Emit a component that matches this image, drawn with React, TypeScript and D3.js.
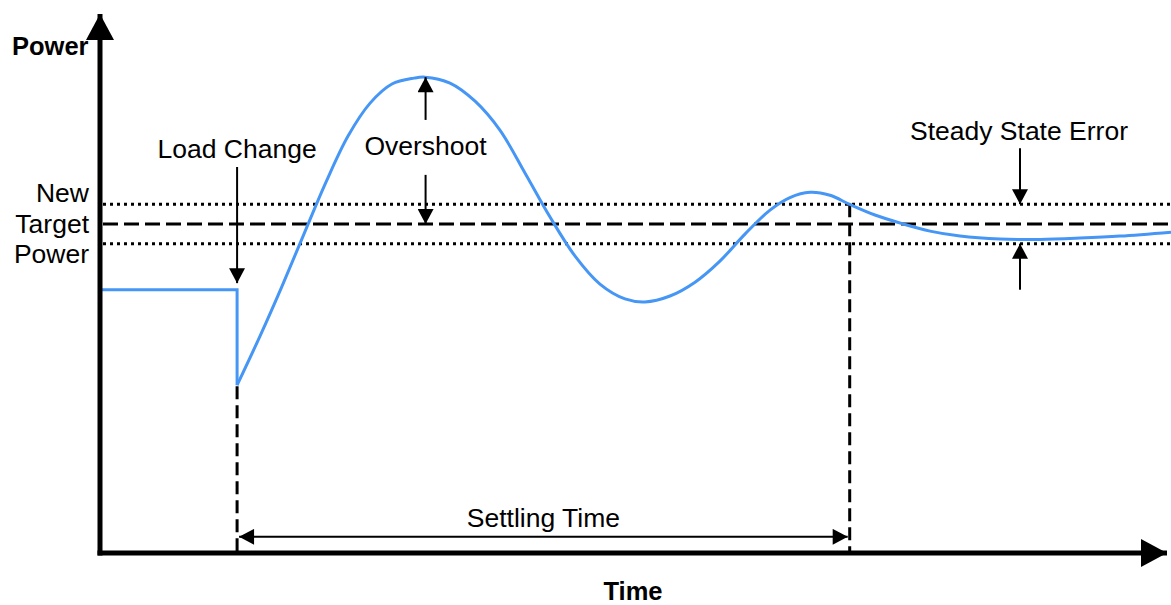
import React from "react";
import * as d3 from "d3";

// ---- data ----
const stepTime = [0, 6.4, 6.4];
const stepPower = [80, 80, 51];

const responseTime = [
  6.4, 7.47, 8.5, 9.52, 10.55, 11.58, 12.61, 13.63, 14.66, 15.17,
  16.34, 17.51, 18.67, 19.84, 21.01, 22.18, 23.34, 24.51, 25.44,
  26.61, 27.78, 28.94, 30.11, 31.28, 32.21, 33.15, 34.08, 35.01,
  36.18, 37.49, 38.75, 40.15, 42.02, 43.88, 45.75, 47.62, 50,
];
const responsePower = [
  51, 65.9, 81.1, 96.9, 112.7, 126.7, 136.7, 142.5, 144.3, 144.6,
  142.8, 137.3, 128.5, 115.5, 102.1, 90.2, 81.7, 77.2, 76.3,
  78.1, 82.3, 88.7, 96.9, 104.2, 108.0, 109.6, 108.7, 105.9,
  102.7, 100.0, 97.8, 96.3, 95.4, 95.3, 95.7, 96.3, 97.5,
];

const targetPower = 100;
const tolerance = 6;
const loadChangeTime = 6.4;
const settlingTime = 35;
const overshootTime = 15.2;
const peakPower = 144.6;
const steadyErrorTime = 42.95;

const axisLabels = { y: "Power", x: "Time" };
const targetLabel = ["New", "Target", "Power"];

// ---- layout ----
const W = 1171;
const H = 605;
const x = d3.scaleLinear().domain([0, 50]).range([100, 1171]);
const y = d3.scaleLinear().domain([0, 165]).range([553, 10]);

const BLUE = "#4696f6";
const FONT = "'Liberation Sans', Arial, Helvetica, sans-serif";

export default function App() {
  const stepPts: [number, number][] = stepTime.map((t, i) => [t, stepPower[i]]);
  const respPts: [number, number][] = responseTime.map((t, i) => [t, responsePower[i]]);
  const lin = d3.line<[number, number]>().x((d) => x(d[0])).y((d) => y(d[1]));
  const smooth = d3
    .line<[number, number]>()
    .x((d) => x(d[0]))
    .y((d) => y(d[1]))
    .curve(d3.curveCatmullRom.alpha(0.5));

  const x0 = x(0);
  const y0 = y(0);
  const xL = x(loadChangeTime);
  const xS = x(settlingTime);
  const xO = x(overshootTime);
  const xE = x(steadyErrorTime);
  const yT = y(targetPower);
  const yUp = y(targetPower + tolerance);
  const yLo = y(targetPower - tolerance);

  const textStyle: React.CSSProperties = { fontFamily: FONT, fontSize: 26.5, fill: "#000" };

  return (
    <div style={{ position: "absolute", left: 0, top: 0 }}>
      <svg width={W} height={H} viewBox={`0 0 ${W} ${H}`} style={{ display: "block", background: "#fff" }}>
        <defs>
          <marker id="ah" markerUnits="userSpaceOnUse" markerWidth={16} markerHeight={16} viewBox="0 0 15 16" refX={15} refY={8} orient="auto-start-reverse">
            <path d="M0,0 L15,8 L0,16 Z" fill="#000" />
          </marker>
          <marker id="axh" markerUnits="userSpaceOnUse" markerWidth={28} markerHeight={28} viewBox="0 0 26 28" refX={26} refY={14} orient="auto">
            <path d="M0,0 L26,14 L0,28 Z" fill="#000" />
          </marker>
        </defs>

        {/* tolerance band and target */}
        <line x1={x0 + 3} x2={W} y1={yUp} y2={yUp} stroke="#000" strokeWidth={3} strokeDasharray="3 4" />
        <line x1={x0 + 3} x2={W} y1={yLo} y2={yLo} stroke="#000" strokeWidth={3} strokeDasharray="3 4" />
        <line x1={x0 + 3} x2={W} y1={yT} y2={yT} stroke="#000" strokeWidth={3} strokeDasharray="15 6" />

        {/* vertical dashed markers */}
        <line x1={xL} x2={xL} y1={y(51) + 1} y2={y0} stroke="#000" strokeWidth={3} strokeDasharray="13 6" />
        <line x1={xS} x2={xS} y1={yUp} y2={y0} stroke="#000" strokeWidth={3} strokeDasharray="13 6" />

        {/* response curve */}
        <path d={lin(stepPts) ?? ""} fill="none" stroke={BLUE} strokeWidth={3} strokeLinejoin="miter" />
        <path d={smooth(respPts) ?? ""} fill="none" stroke={BLUE} strokeWidth={3} />

        {/* axes */}
        <line x1={x0} x2={x0} y1={y0 + 2.5} y2={y(165) + 4} stroke="#000" strokeWidth={5} markerEnd="url(#axh)" />
        <line x1={x0 - 2.5} x2={W - 4} y1={y0} y2={y0} stroke="#000" strokeWidth={5} markerEnd="url(#axh)" />

        {/* annotation arrows */}
        <line x1={xL} x2={xL} y1={y(117.3)} y2={y(82)} stroke="#000" strokeWidth={2} markerEnd="url(#ah)" />
        <line x1={xO} x2={xO} y1={y(131.6)} y2={y(peakPower)} stroke="#000" strokeWidth={2} markerEnd="url(#ah)" />
        <line x1={xO} x2={xO} y1={y(114.9)} y2={yT} stroke="#000" strokeWidth={2} markerEnd="url(#ah)" />
        <line x1={xE} x2={xE} y1={y(123)} y2={yUp} stroke="#000" strokeWidth={2} markerEnd="url(#ah)" />
        <line x1={xE} x2={xE} y1={y(80)} y2={yLo} stroke="#000" strokeWidth={2} markerEnd="url(#ah)" />
        <line x1={xL + 2} x2={xS - 2} y1={y(4.9)} y2={y(4.9)} stroke="#000" strokeWidth={2} markerStart="url(#ah)" markerEnd="url(#ah)" />

        {/* labels */}
        <text x={12} y={55} style={{ ...textStyle, fontSize: 25.5, fontWeight: "bold" }}>{axisLabels.y}</text>
        <text x={633} y={600} textAnchor="middle" style={{ ...textStyle, fontSize: 25.5, fontWeight: "bold" }}>{axisLabels.x}</text>
        {targetLabel.map((s, i) => (
          <text key={s} x={89} y={202 + i * 30.5} textAnchor="end" style={textStyle}>{s}</text>
        ))}
        <text x={xL} y={158} textAnchor="middle" style={textStyle}>Load Change</text>
        <text x={xO} y={155} textAnchor="middle" style={textStyle}>Overshoot</text>
        <text x={xE - 1} y={140} textAnchor="middle" style={textStyle}>Steady State Error</text>
        <text x={(xL + xS) / 2} y={527} textAnchor="middle" style={textStyle}>Settling Time</text>
      </svg>
    </div>
  );
}
